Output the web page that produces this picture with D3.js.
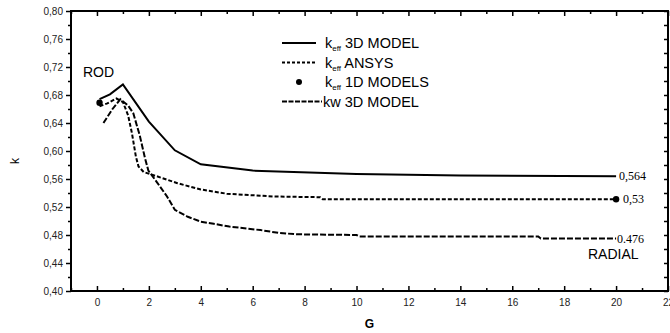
<!DOCTYPE html>
<html>
<head>
<meta charset="utf-8">
<script src="https://cdn.jsdelivr.net/npm/d3@7"></script>
<style>
  body { margin: 0; background: #fff; }
  svg { display: block; font-family: "Liberation Sans", Arial, sans-serif; }
</style>
</head>
<body>
<div id="app"></div>
<script>
// data
const model3dG = [0.1, 0.5, 1, 2, 3, 4, 6, 10, 14, 20]
const model3dK = [0.674, 0.681, 0.695, 0.642, 0.601, 0.581, 0.572, 0.567, 0.565, 0.564]

const ansysG = [0.1, 0.4, 0.75, 1.0, 1.2, 1.35, 1.5, 1.6, 1.8, 2.3, 3.1, 4.0, 5.0, 6.8, 8.6, 8.7, 20]
const ansysK = [0.664, 0.668, 0.675, 0.670, 0.651, 0.625, 0.592, 0.578, 0.570, 0.564, 0.554, 0.545, 0.539, 0.535, 0.534, 0.531, 0.531]

const kwG = [0.25, 0.6, 0.9, 1.2, 1.4, 1.65, 1.85, 1.98, 2.3, 2.7, 3.0, 3.5, 4.0, 4.5, 5.1, 5.6, 6.3, 7.0, 7.7, 10, 10.1, 17, 17.1, 20]
const kwK = [0.640, 0.660, 0.674, 0.665, 0.654, 0.622, 0.590, 0.572, 0.556, 0.535, 0.516, 0.506, 0.499, 0.496, 0.492, 0.490, 0.487, 0.483, 0.481, 0.480, 0.478, 0.478, 0.475, 0.475]

const oneDG = [0.1, 20]
const oneDK = [0.669, 0.531]

const xTicks = [0, 2, 4, 6, 8, 10, 12, 14, 16, 18, 20, 22]
const xMinor = [-1, 1, 3, 5, 7, 9, 11, 13, 15, 17, 19, 21]
const yTicks = [0.40, 0.44, 0.48, 0.52, 0.56, 0.60, 0.64, 0.68, 0.72, 0.76, 0.80]
const yMinor = [0.42, 0.46, 0.50, 0.54, 0.58, 0.62, 0.66, 0.70, 0.74, 0.78]

const endLabels = ['0,564', '0,53', '0.476']

function main() {
  const W = 670, H = 333
  const m = { left: 71, right: 2, top: 11, bottom: 42 }

  const svg = d3.select('#app').append('svg').attr('width', W).attr('height', H)

  const x = d3.scaleLinear().domain([-1, 22]).range([m.left, W - m.right])
  const y = d3.scaleLinear().domain([0.40, 0.80]).range([H - m.bottom, m.top])
  const fmt = (d) => d3.format('.2f')(d).replace('.', ',')

  // axes: left ticks outside, the rest inside
  const axisStyle = (g) => {
    g.selectAll('.domain').remove()
    g.selectAll('line').attr('stroke', '#000').attr('stroke-width', 1.5)
    g.selectAll('text').attr('fill', '#222').style('font-size', '10px')
      .style('font-family', '"Liberation Sans", Arial, sans-serif')
  }

  svg.append('g').attr('transform', `translate(${m.left},0)`)
    .call(d3.axisLeft(y).tickValues(yTicks).tickFormat(fmt).tickSize(5).tickPadding(3))
    .call(axisStyle)
  svg.append('g').attr('transform', `translate(${m.left},0)`)
    .call(d3.axisLeft(y).tickValues(yMinor).tickFormat('').tickSize(3))
    .call(axisStyle)

  svg.append('g').attr('transform', `translate(0,${H - m.bottom})`)
    .call(d3.axisBottom(x).tickValues(xTicks).tickSize(-5).tickPadding(8))
    .call(axisStyle)
  svg.append('g').attr('transform', `translate(0,${H - m.bottom})`)
    .call(d3.axisBottom(x).tickValues(xMinor).tickFormat('').tickSize(-3))
    .call(axisStyle)

  svg.append('g').attr('transform', `translate(0,${m.top})`)
    .call(d3.axisTop(x).tickValues(xTicks).tickFormat('').tickSize(-5))
    .call(axisStyle)
  svg.append('g').attr('transform', `translate(0,${m.top})`)
    .call(d3.axisTop(x).tickValues(xMinor).tickFormat('').tickSize(-3))
    .call(axisStyle)

  svg.append('g').attr('transform', `translate(${W - m.right},0)`)
    .call(d3.axisRight(y).tickValues(yTicks.concat(yMinor)).tickFormat('').tickSize(-4))
    .call(axisStyle)

  // frame
  svg.append('rect')
    .attr('x', m.left).attr('y', m.top)
    .attr('width', W - m.right - m.left).attr('height', H - m.bottom - m.top)
    .attr('fill', 'none').attr('stroke', '#000').attr('stroke-width', 2)

  // axis titles
  svg.append('text').attr('x', (m.left + W - m.right) / 2).attr('y', 328)
    .attr('text-anchor', 'middle').style('font-size', '12px').style('font-weight', 'bold').text('G')
  svg.append('text').attr('transform', 'translate(19,161) rotate(-90)')
    .attr('text-anchor', 'middle').style('font-size', '12px').text('k')

  // curves
  const line = d3.line().x((d) => x(d[0])).y((d) => y(d[1]))
  const series = [
    { g: model3dG, k: model3dK, dash: null },
    { g: ansysG, k: ansysK, dash: '4,2' },
    { g: kwG, k: kwK, dash: '6,2' }
  ]
  series.forEach((s) => {
    svg.append('path')
      .datum(d3.zip(s.g, s.k))
      .attr('d', line)
      .attr('fill', 'none')
      .attr('stroke', '#000')
      .attr('stroke-width', 2)
      .attr('stroke-dasharray', s.dash)
  })

  svg.append('g').selectAll('circle').data(d3.zip(oneDG, oneDK)).join('circle')
    .attr('cx', (d) => x(d[0])).attr('cy', (d) => y(d[1])).attr('r', 3.2).attr('fill', '#000')

  // end value labels
  const ends = [model3dK[model3dK.length - 1], oneDK[1], kwK[kwK.length - 1]]
  const offs = [3, 7, 1]
  svg.append('g').selectAll('text').data(ends).join('text')
    .attr('x', (d, i) => x(20) + offs[i])
    .attr('y', (d) => y(d) + 4)
    .style('font-family', '"Liberation Serif", "Times New Roman", serif')
    .style('font-size', '12px')
    .text((d, i) => endLabels[i])

  svg.append('text').attr('x', 83).attr('y', 77).style('font-size', '14px').text('ROD')
  svg.append('text').attr('x', 588).attr('y', 259).style('font-size', '14px').text('RADIAL')

  // legend
  const legend = [
    { type: 'line', dash: null, sub: true, label: ' 3D MODEL' },
    { type: 'line', dash: '3,2', sub: true, label: ' ANSYS' },
    { type: 'dot', dash: null, sub: true, label: ' 1D MODELS' },
    { type: 'line', dash: '5,1.5', sub: false, label: 'kw 3D MODEL' }
  ]
  const lg = svg.append('g').selectAll('g').data(legend).join('g')
    .attr('transform', (d, i) => `translate(282,${43 + i * 19.5})`)
  lg.filter((d) => d.type === 'line').append('line')
    .attr('x1', 0).attr('x2', (d) => (d.sub ? 34 : 40)).attr('stroke', '#000').attr('stroke-width', 1.8)
    .attr('stroke-dasharray', (d) => d.dash)
  lg.filter((d) => d.type === 'dot').append('circle')
    .attr('cx', 17).attr('r', 3).attr('fill', '#000')
  const lt = lg.append('text').attr('x', (d) => (d.sub ? 43 : 41)).attr('y', 5.3).style('font-size', '14.5px')
  lt.filter((d) => d.sub).append('tspan').text('k')
  lt.filter((d) => d.sub).append('tspan').attr('dy', 3).style('font-size', '8px').text('eff')
  lt.append('tspan').attr('dy', (d) => (d.sub ? -3 : 0)).text((d) => d.label)
}

main();
</script>
</body>
</html>
